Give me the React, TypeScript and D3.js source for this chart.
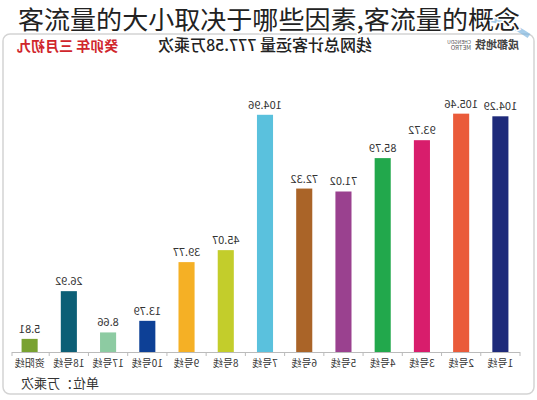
import React from "react";
import * as d3 from "d3";

const lines = ["1号线", "2号线", "3号线", "4号线", "5号线", "6号线", "7号线", "8号线", "9号线", "10号线", "17号线", "18号线", "资阳线"];
const values = [104.29, 105.46, 93.72, 85.79, 71.02, 72.32, 104.96, 45.07, 39.77, 13.79, 8.66, 26.92, 5.81];
const colors = ["#1e2a7a", "#ea5b3a", "#d81d6c", "#22a84c", "#9a418f", "#aa6428", "#5ac1dd", "#c3cd2b", "#f5b025", "#0d4096", "#8dcba2", "#0c5f76", "#79a231"];

const W = 537;
const H = 400;
const FONT = "'Noto Sans CJK SC', 'Noto Sans', sans-serif";

export default function App() {
  const x = d3.scaleBand<string>().domain(lines).range([17, 527]).paddingInner(0.59).paddingOuter(0.295);
  const y = d3.scaleLinear().domain([0, 110]).range([352, 103.4]);
  const base = y(0);
  const step = x.step();
  const x0 = x.range()[0];
  const x1 = x.range()[1];

  return (
    <svg width={W} height={H} style={{ position: "absolute", left: 0, top: 0, background: "#fff" }} fontFamily={FONT}>
      <rect x={0} y={0} width={W} height={H} fill="#fff" />
      {/* mirrored chart */}
      <g transform={`translate(${W},0) scale(-1,1)`}>
        <rect x={3} y={34} width={531} height={360} rx={7} fill="#fff" stroke="#d4d4d4" strokeWidth={1.5} />
        {/* logo */}
        <path d="M 8 36 Q 40 14 62 22" fill="none" stroke="#7fb7e0" strokeWidth={5} opacity={0.7} />
        <text x={18} y={49} fontSize={11} fill="#444" fontWeight={700}>成都地铁</text>
        <text x={66} y={44} fontSize={5} fill="#555">CHENGDU</text>
        <text x={66} y={50} fontSize={6} fill="#555">METRO</text>
        {/* header */}
        <text x={272} y={51} fontSize={16} fill="#222" textAnchor="middle" fontWeight={500}>线网总计客运量 777.58万乘次</text>
        <text x={520} y={51} fontSize={14} fill="#d0262c" textAnchor="end" fontWeight={700}>癸卯年 三月初九</text>
        {/* axis */}
        <line x1={x0} x2={x1 - 2} y1={base + 0.5} y2={base + 0.5} stroke="#bbb" strokeWidth={1} />
        {lines.map((c, i) => (
          <line key={"t" + c} x1={x0 + i * step} x2={x0 + i * step} y1={base} y2={base + 4} stroke="#bbb" />
        ))}
        <line x1={x1 - 2} x2={x1 - 2} y1={base} y2={base + 4} stroke="#bbb" />
        {lines.map((c, i) => (
          <g key={c}>
            <rect x={x(c)} y={y(values[i])} width={x.bandwidth()} height={base - y(values[i])} fill={colors[i]} />
            <text x={(x(c) as number) + x.bandwidth() / 2} y={y(values[i]) - 6} fontSize={11} fill="#333" textAnchor="middle">
              {values[i].toFixed(2)}
            </text>
            <text x={(x(c) as number) + x.bandwidth() / 2} y={367} fontSize={10} fill="#333" textAnchor="middle">
              {c}
            </text>
          </g>
        ))}
        <text x={516} y={388} fontSize={13} fill="#333" textAnchor="end">单位：万乘次</text>
      </g>
      {/* overlay title */}
      <text x={18} y={29} fontSize={25} fill="#222" textAnchor="start" textLength={502} lengthAdjust="spacingAndGlyphs" stroke="#fff" strokeWidth={3} paintOrder="stroke" fontFamily={FONT}>
        客流量的大小取决于哪些因素,客流量的概念
      </text>
    </svg>
  );
}
